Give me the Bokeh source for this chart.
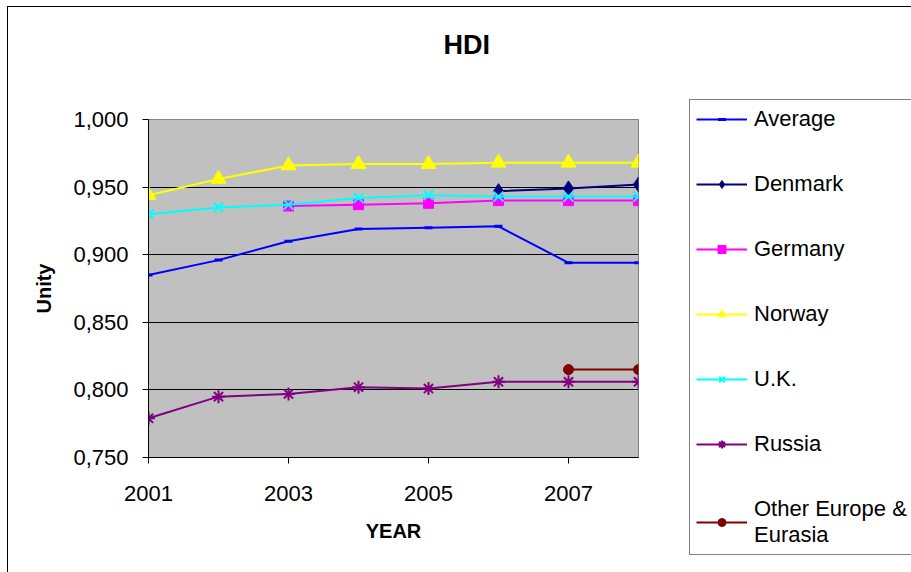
from bokeh.plotting import figure
from bokeh.layouts import row
from bokeh.models import (FixedTicker, CustomJSTickFormatter, Legend, LegendItem,
                          Title, InlineStyleSheet)
from bokeh.embed import file_html
from bokeh.resources import INLINE

NAN = float("nan")

# Human Development Index by year
years = [2001, 2002, 2003, 2004, 2005, 2006, 2007, 2008]
average = [0.885, 0.896, 0.910, 0.919, 0.920, 0.921, 0.894, 0.894]
denmark = [NAN, NAN, NAN, NAN, NAN, 0.947, 0.949, 0.952]
germany = [NAN, NAN, 0.936, 0.937, 0.938, 0.940, 0.940, 0.940]
norway = [0.944, 0.956, 0.966, 0.967, 0.967, 0.968, 0.968, 0.968]
uk = [0.930, 0.935, 0.937, 0.942, 0.944, 0.943, 0.943, 0.943]
russia = [0.779, 0.795, 0.797, 0.802, 0.801, 0.806, 0.806, 0.806]
other_europe = [NAN, NAN, NAN, NAN, NAN, NAN, 0.815, 0.815]

x_ticks = [2001, 2003, 2005, 2007]
y_ticks = [0.75, 0.80, 0.85, 0.90, 0.95, 1.00]

FONT = "Liberation Sans"

# thin chart frame: left + top edges on the plot, top edge on the legend panel
main_frame_css = InlineStyleSheet(css="""
:host::after {
  content: ""; position: absolute;
  left: 7px; top: 6px; right: 0; bottom: 0;
  border-left: 1.5px solid black; border-top: 1.5px solid black;
  pointer-events: none;
}
""")
side_frame_css = InlineStyleSheet(css="""
:host::after {
  content: ""; position: absolute;
  left: 0; top: 6px; right: 0; bottom: 0;
  border-top: 1.5px solid black;
  pointer-events: none;
}
""")

p = figure(width=688, height=572, output_backend="svg", toolbar_location=None,
           x_range=(2001, 2008), y_range=(0.75, 1.0),
           min_border_left=148, min_border_right=50,
           min_border_top=119, min_border_bottom=115,
           stylesheets=[main_frame_css])
p.frame_align = False

p.background_fill_color = "#C0C0C0"
p.border_fill_color = "white"
p.outline_line_color = "#808080"
p.outline_line_width = 1

p.xgrid.visible = False
p.ygrid.ticker = FixedTicker(ticks=y_ticks)
p.ygrid.grid_line_color = "black"
p.ygrid.grid_line_width = 1

for ax in (p.xaxis[0], p.yaxis[0]):
    ax.axis_line_color = "black"
    ax.axis_line_width = 1
    ax.major_tick_line_color = "black"
    ax.major_tick_in = 0
    ax.major_tick_out = 6
    ax.minor_tick_line_color = None
    ax.major_label_text_font = FONT
    ax.major_label_text_font_size = "22px"
    ax.major_label_text_color = "black"
    ax.axis_label_text_font = FONT
    ax.axis_label_text_font_size = "20px"
    ax.axis_label_text_font_style = "bold"
    ax.axis_label_text_color = "black"

p.xaxis.ticker = FixedTicker(ticks=x_ticks)
p.xaxis.major_label_standoff = 22
p.xaxis.axis_label = "YEAR"
p.xaxis.axis_label_standoff = 16

p.yaxis.ticker = FixedTicker(ticks=y_ticks)
p.yaxis.formatter = CustomJSTickFormatter(code="return tick.toFixed(3).replace('.', ',')")
p.yaxis.major_label_standoff = 14
p.yaxis.axis_label = "Unity"
p.yaxis.axis_label_standoff = 15

p.add_layout(Title(text="HDI", align="left", offset=295, standoff=0,
                   padding=dict(top=0, right=0, bottom=60, left=0),
                   text_font=FONT, text_font_size="27px", text_font_style="bold",
                   text_color="black"), "above")

series = [
    ("Average", average, "#0000FF", dict(marker="dash", size=8, line_width=3)),
    ("Denmark", denmark, "#000080", dict(marker="diamond", size=15)),
    ("Germany", germany, "#FF00FF", dict(marker="square", size=10)),
    ("Norway", norway, "#FFFF00", dict(marker="triangle", size=15)),
    ("U.K.", uk, "#00FFFF", dict(marker="x", size=14, line_width=2)),
    ("Russia", russia, "#800080", dict(marker="asterisk", size=13, line_width=2)),
    ("Other Europe &\nEurasia", other_europe, "#800000", dict(marker="circle", size=10)),
]

# legend panel to the right of the plot
lg = figure(width=223, height=572, output_backend="svg", toolbar_location=None,
            x_axis_location=None, y_axis_location=None,
            x_range=(0, 1), y_range=(0, 1),
            min_border_left=0, min_border_right=0, min_border_top=0, min_border_bottom=0,
            stylesheets=[side_frame_css])
lg.frame_align = False
lg.outline_line_color = None
lg.background_fill_color = "white"
lg.border_fill_color = "white"
lg.grid.visible = False

items = []
for name, vals, color, mk in series:
    mk = dict(mk)
    lw = mk.pop("line_width", 1)
    p.line(years, vals, line_color=color, line_width=2)
    p.scatter(years, vals, fill_color=color, line_color=color, line_width=lw, **mk)
    # legend swatches share the series styling (single undrawable point)
    ln = lg.line(x=[NAN], y=[NAN], line_color=color, line_width=2)
    sc = lg.scatter(x=[NAN], y=[NAN], fill_color=color, line_color=color,
                    line_width=lw, **mk)
    items.append(LegendItem(label=name, renderers=[ln, sc]))

legend = Legend(items=items, location=(1, 17),
                border_line_color="black", border_line_width=1,
                background_fill_color="white", background_fill_alpha=1,
                label_text_font=FONT, label_text_font_size="22px",
                label_text_color="black", label_text_line_height=1.5,
                glyph_width=51, glyph_height=20, label_height=20,
                label_standoff=7, spacing=39, padding=6, margin=0)
lg.add_layout(legend, "center")

layout = row(p, lg)
open("out.html", "w").write(file_html(layout, INLINE))
